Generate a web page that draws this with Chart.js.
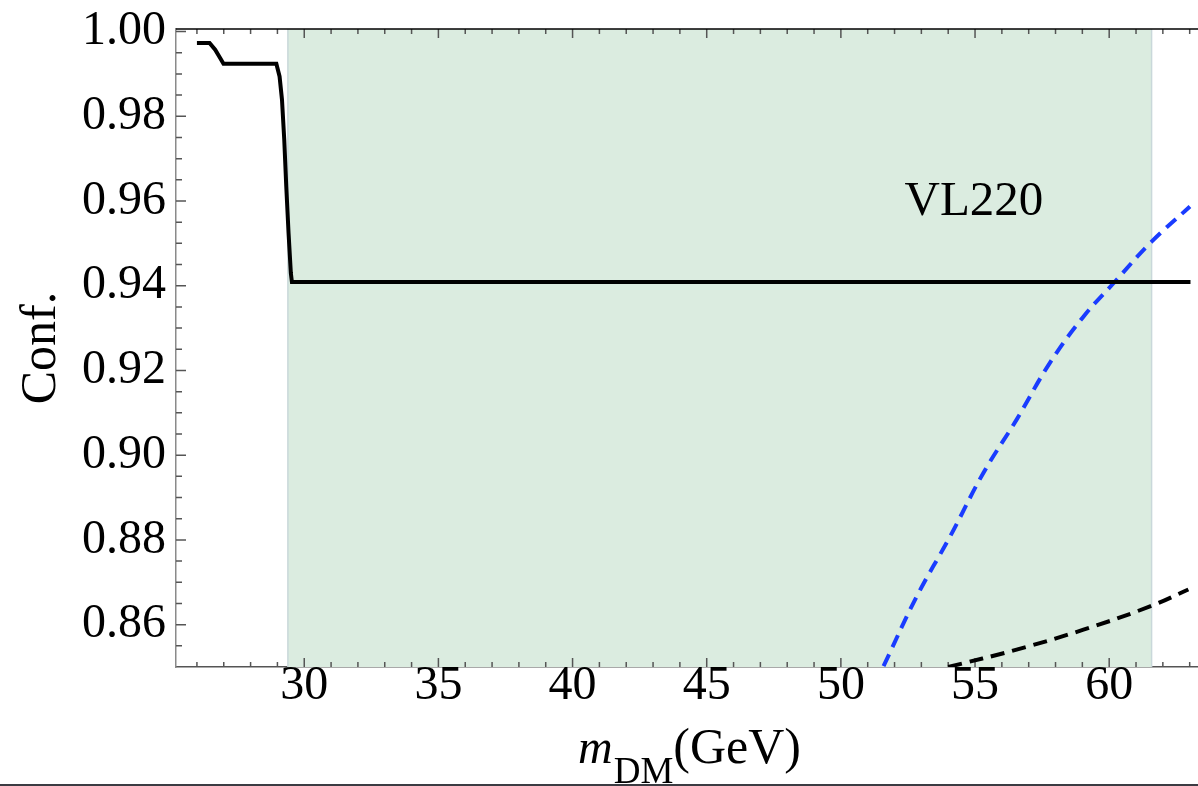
<!DOCTYPE html>
<html>
<head>
<meta charset="utf-8">
<script src="https://cdn.jsdelivr.net/npm/chart.js@4.4.1/dist/chart.umd.min.js"></script>
<style>
  html, body { margin: 0; padding: 0; background: #fff; overflow: hidden; }
  #wrap { width: 1198px; height: 786px; position: relative; }
</style>
</head>
<body>
<div id="wrap"><canvas id="chart" width="1198" height="786"></canvas></div>
<script>
// confidence vs dark matter mass, VL220 benchmark
const X_RANGE = [25.22, 63.31];
const Y_RANGE = [0.85, 1.0006];

// allowed mass window (shaded band)
const SHADE_FROM = 29.39;
const SHADE_TO = 61.58;

// solid black curve
const solidX = [26.0, 26.47, 26.68, 26.87, 26.99, 28.96, 29.08, 29.17, 29.255, 29.33, 29.415, 29.50, 29.54, 63.03];
const solidY = [0.9973, 0.9973, 0.9957, 0.9937, 0.9924, 0.9924, 0.9894, 0.9839, 0.9744, 0.9634, 0.9524, 0.9430, 0.9409, 0.9409];

// blue dashed curve
const blueX = [51.59, 52.83, 54.07, 55.31, 56.55, 57.79, 59.04, 60.22, 61.58, 63.01];
const blueY = [0.8502, 0.8667, 0.8808, 0.8958, 0.9084, 0.9218, 0.9327, 0.9410, 0.9504, 0.9587];

// black dashed curve
const darkX = [54.0, 56.55, 59.04, 61.52, 62.95];
const darkY = [0.8500, 0.8541, 0.8588, 0.8643, 0.8683];

const LABEL_TEXT = 'VL220';
const LABEL_POS = { x: 54.96, y: 0.9568 };

const SERIF = '"Liberation Serif", "DejaVu Serif", serif';

const toPoints = (xs, ys) => xs.map((x, i) => ({ x, y: ys[i] }));

const frame = {
  id: 'frame',
  beforeDatasetsDraw(chart) {
    const { ctx, chartArea: a, scales: { x } } = chart;
    const x0 = x.getPixelForValue(SHADE_FROM);
    const x1 = x.getPixelForValue(SHADE_TO);
    ctx.save();
    ctx.fillStyle = '#dbece0';
    ctx.fillRect(x0, a.top, x1 - x0, a.bottom - a.top);
    ctx.strokeStyle = '#c9d8da';
    ctx.lineWidth = 1.5;
    ctx.beginPath();
    ctx.moveTo(x0, a.top); ctx.lineTo(x0, a.bottom);
    ctx.moveTo(x1, a.top); ctx.lineTo(x1, a.bottom);
    ctx.stroke();

    // inward tick marks
    ctx.strokeStyle = '#555';
    ctx.lineWidth = 1.5;
    ctx.beginPath();
    for (let v = 26; v <= 63; v++) {
      const px = x.getPixelForValue(v);
      const len = v % 5 === 0 ? 9 : 5;
      ctx.moveTo(px, a.bottom); ctx.lineTo(px, a.bottom - len);
      ctx.moveTo(px, a.top); ctx.lineTo(px, a.top + len);
    }
    const y = chart.scales.y;
    for (let k = 171; k <= 200; k++) {
      const v = k * 0.005;
      const py = y.getPixelForValue(v);
      const len = k % 4 === 0 ? 10 : 6;
      ctx.moveTo(a.left, py); ctx.lineTo(a.left + len, py);
    }
    ctx.stroke();
    ctx.restore();
  },
  afterDraw(chart) {
    const { ctx, chartArea: a, scales: { x, y } } = chart;
    ctx.save();

    // top frame line
    ctx.strokeStyle = '#000';
    ctx.lineWidth = 1.5;
    ctx.beginPath();
    ctx.moveTo(a.left, a.top); ctx.lineTo(a.right, a.top);
    ctx.stroke();

    ctx.fillStyle = '#000';
    ctx.textBaseline = 'alphabetic';

    // curve label
    ctx.font = '49px ' + SERIF;
    ctx.textAlign = 'center';
    ctx.fillText(LABEL_TEXT, x.getPixelForValue(LABEL_POS.x), y.getPixelForValue(LABEL_POS.y));

    // y title
    ctx.save();
    ctx.translate(55, 348);
    ctx.rotate(-Math.PI / 2);
    ctx.font = '50px ' + SERIF;
    ctx.fillText('Conf.', 0, 0);
    ctx.restore();

    // x title: m_DM(GeV)
    ctx.textAlign = 'left';
    let cx = 578;
    ctx.font = 'italic 48px ' + SERIF;
    ctx.fillText('m', cx, 763);
    cx += ctx.measureText('m').width + 1;
    ctx.font = '37px ' + SERIF;
    ctx.fillText('DM', cx, 783);
    cx += ctx.measureText('DM').width;
    ctx.font = '50px ' + SERIF;
    ctx.fillText('(GeV)', cx, 763);

    // bottom rule
    ctx.fillStyle = '#3b3b42';
    ctx.fillRect(0, 784, chart.width, 2);
    ctx.restore();
  }
};

new Chart(document.getElementById('chart'), {
  type: 'scatter',
  data: {
    datasets: [
      {
        data: toPoints(solidX, solidY),
        showLine: true,
        borderColor: '#000',
        borderWidth: 4,
        pointRadius: 0,
        tension: 0,
      },
      {
        data: toPoints(blueX, blueY),
        showLine: true,
        borderColor: '#1a3cff',
        borderWidth: 4,
        borderDash: [13, 8],
        pointRadius: 0,
        tension: 0.4,
      },
      {
        data: toPoints(darkX, darkY),
        showLine: true,
        borderColor: '#000',
        borderWidth: 4,
        borderDash: [14, 8],
        pointRadius: 0,
        tension: 0.4,
      },
    ],
  },
  options: {
    responsive: false,
    animation: false,
    clip: true,
    layout: { padding: { top: 29, right: 0, left: 0, bottom: 0 } },
    plugins: {
      legend: { display: false },
      tooltip: { enabled: false },
    },
    scales: {
      x: {
        type: 'linear',
        min: X_RANGE[0],
        max: X_RANGE[1],
        grid: { display: false, drawTicks: false },
        border: { display: true, color: '#555', width: 1.5 },
        ticks: {
          stepSize: 5,
          includeBounds: false,
          padding: -9,
          color: '#000',
          font: { family: SERIF, size: 48 },
          maxRotation: 0,
          callback: (v) => (v % 5 === 0 ? String(v) : ''),
        },
        afterFit: (scale) => {
          scale.height = 119;
          scale.paddingLeft = 0;
          scale.paddingRight = 0;
        },
      },
      y: {
        type: 'linear',
        min: Y_RANGE[0],
        max: Y_RANGE[1],
        grid: { display: false, drawTicks: false },
        border: { display: true, color: '#8a8a8a', width: 1.5 },
        ticks: {
          stepSize: 0.02,
          includeBounds: false,
          padding: 10,
          color: '#000',
          font: { family: SERIF, size: 48 },
          callback: (v) => Number(v).toFixed(2),
        },
        afterFit: (scale) => {
          scale.width = 176;
          scale.paddingTop = 0;
          scale.paddingBottom = 0;
        },
      },
    },
  },
  plugins: [frame],
});
</script>
</body>
</html>
